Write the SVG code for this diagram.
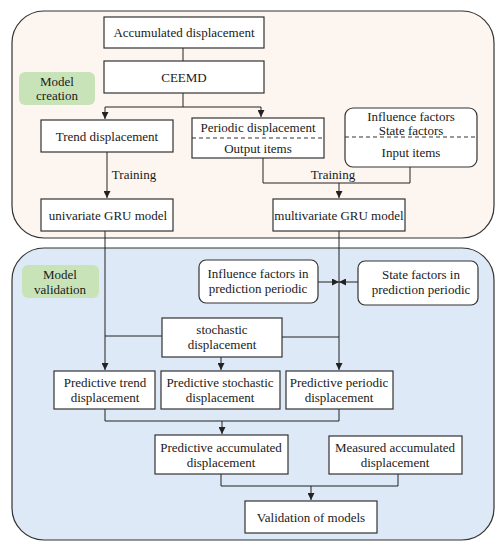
<svg xmlns="http://www.w3.org/2000/svg" width="503" height="550" viewBox="0 0 503 550">
<defs>
<marker id="ah" viewBox="0 0 8 8" refX="8" refY="4" markerWidth="7" markerHeight="7" markerUnits="userSpaceOnUse" orient="auto"><path d="M0,0 L8,4 L0,8 z" fill="#222"/></marker>
<style>
text{font-family:"Liberation Serif","Times New Roman",serif;font-size:13px;fill:#1a1a1a;text-anchor:middle}
.box{fill:#fff;stroke:#333;stroke-width:1.2}
.cont{stroke:#333;stroke-width:1.2}
.lab{fill:#c9e3b9;stroke:none}
.ln{fill:none;stroke:#222;stroke-width:1}
.arr{fill:none;stroke:#222;stroke-width:1;marker-end:url(#ah)}
.dash{stroke:#333;stroke-width:1;stroke-dasharray:4,3}
</style>
</defs>
<g id="creation-panel"><rect class="cont" x="12" y="11" width="482" height="227" rx="32" fill="#fdf6f0"/></g>
<g id="validation-panel"><rect class="cont" x="12" y="248" width="482" height="292" rx="32" fill="#dde9f6"/></g>
<g id="label-creation"><rect class="lab" x="19" y="72" width="76" height="33" rx="6"/><text x="57" y="86">Model</text><text x="57" y="100">creation</text></g>
<g id="label-validation"><rect class="lab" x="22" y="265" width="77" height="33" rx="6"/><text x="60" y="279">Model</text><text x="60" y="294">validation</text></g>
<g id="connectors">
<line class="ln" x1="183" y1="48" x2="183" y2="61"/>
<polyline class="ln" points="183,93 183,107"/>
<polyline class="arr" points="183,107 105,107 105,119"/>
<polyline class="arr" points="183,107 261,107 261,117"/>
<line class="arr" x1="107" y1="152" x2="107" y2="198"/>
<polyline class="ln" points="263,158 263,183 410,183 410,167"/>
<line class="arr" x1="339" y1="183" x2="339" y2="198"/>
<line class="arr" x1="105" y1="231" x2="105" y2="370"/>
<line class="arr" x1="339" y1="231" x2="339" y2="370"/>
<line class="arr" x1="318" y1="282" x2="339" y2="282"/>
<line class="arr" x1="358" y1="282" x2="339" y2="282"/>
<line class="ln" x1="162" y1="336" x2="105" y2="336"/>
<line class="ln" x1="282" y1="337" x2="339" y2="337"/>
<line class="arr" x1="221" y1="357" x2="221" y2="370"/>
<polyline class="ln" points="105,409 105,421 339,421 339,409"/>
<line class="arr" x1="222" y1="421" x2="222" y2="434"/>
<polyline class="ln" points="221,474 221,486 398,486 398,474"/>
<line class="arr" x1="311" y1="486" x2="311" y2="500"/>
</g>
<g id="accumulated"><rect class="box" x="104" y="17" width="160" height="31"/><text x="184" y="37">Accumulated displacement</text></g>
<g id="ceemd"><rect class="box" x="104" y="61" width="160" height="32"/><text x="184" y="82">CEEMD</text></g>
<g id="trend"><rect class="box" x="41" y="120" width="132" height="32"/><text x="107" y="141">Trend displacement</text></g>
<g id="periodic"><rect class="box" x="192" y="118" width="132" height="40"/><line class="dash" x1="192" y1="138" x2="324" y2="138"/><text x="258" y="132">Periodic displacement</text><text x="258" y="153">Output items</text></g>
<g id="factors"><rect class="box" x="345" y="108" width="132" height="59" rx="8"/><line class="dash" x1="345" y1="137" x2="477" y2="137"/><text x="411" y="121">Influence factors</text><text x="411" y="135">State factors</text><text x="411" y="157">Input items</text></g>
<g id="training-labels"><text x="134" y="179">Training</text><text x="333" y="179">Training</text></g>
<g id="univariate"><rect class="box" x="41" y="199" width="132" height="32"/><text x="108" y="220">univariate GRU model</text></g>
<g id="multivariate"><rect class="box" x="273" y="199" width="132" height="32"/><text x="339" y="220">multivariate GRU model</text></g>
<g id="influence-pred"><rect class="box" x="199" y="260" width="119" height="43" rx="7"/><text x="258" y="278">Influence factors in</text><text x="258" y="293">prediction periodic</text></g>
<g id="state-pred"><rect class="box" x="358" y="261" width="120" height="44" rx="7"/><text x="421" y="279">State factors in</text><text x="421" y="294">prediction periodic</text></g>
<g id="stochastic"><rect class="box" x="162" y="318" width="120" height="39"/><text x="222" y="334">stochastic</text><text x="222" y="349">displacement</text></g>
<g id="pred-trend"><rect class="box" x="54" y="371" width="101" height="38"/><text x="105" y="387">Predictive trend</text><text x="105" y="402">displacement</text></g>
<g id="pred-stochastic"><rect class="box" x="161" y="371" width="119" height="38"/><text x="220" y="387">Predictive stochastic</text><text x="220" y="402">displacement</text></g>
<g id="pred-periodic"><rect class="box" x="286" y="371" width="107" height="38"/><text x="339" y="387">Predictive periodic</text><text x="339" y="402">displacement</text></g>
<g id="pred-accumulated"><rect class="box" x="155" y="435" width="133" height="39"/><text x="221" y="452">Predictive accumulated</text><text x="221" y="467">displacement</text></g>
<g id="measured"><rect class="box" x="329" y="436" width="133" height="38"/><text x="395" y="452">Measured accumulated</text><text x="395" y="467">displacement</text></g>
<g id="validation"><rect class="box" x="245" y="501" width="132" height="32"/><text x="311" y="522">Validation of models</text></g>
</svg>
